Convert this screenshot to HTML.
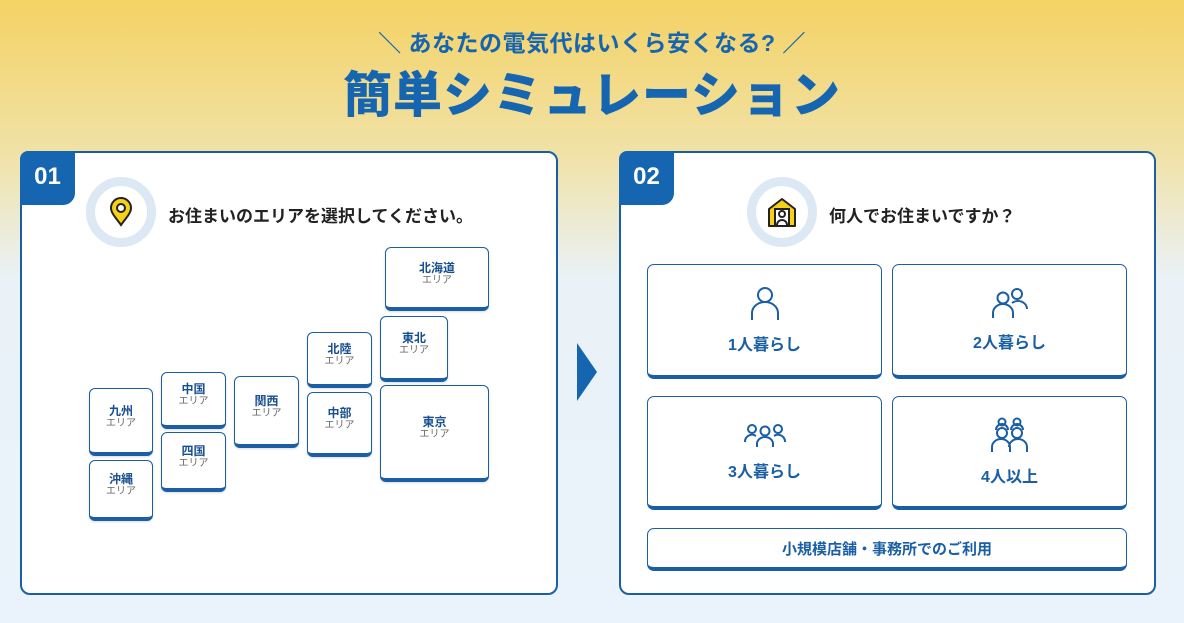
<!DOCTYPE html>
<html><head><meta charset="utf-8"><style>
*{margin:0;padding:0;box-sizing:border-box}
body{width:1184px;height:623px;overflow:hidden;position:relative;font-family:"Liberation Sans","Noto Sans CJK JP",sans-serif;background:linear-gradient(180deg,#f4d264 0%,#f0e2a8 25%,#eaf2f8 45%,#eaf3fb 100%)}
.abs{position:absolute}
.sub{left:0;width:1184px;top:24px;text-align:center;font-size:23px;font-weight:700;color:#1565b0;letter-spacing:0.5px}
.ttl{left:0;width:1184px;top:64px;text-align:center;font-size:49px;font-weight:900;color:#1565b0;letter-spacing:1px;line-height:64px}
.card{background:#fff;border:2px solid #1a5fa5;border-radius:10px}
.badge{background:#1565b0;color:#fff;font-weight:700;font-size:24px;width:55px;height:54px;border-radius:8px 0 12px 0;text-align:center;line-height:52px;left:-2px;top:-2px;font-family:"Liberation Sans Narrow","Liberation Sans",sans-serif}
.ring{width:70px;height:70px;border-radius:50%;background:#fff;border:9px solid #dce8f4}
.q{font-size:17px;font-weight:700;color:#222}
.area{background:#fff;border:1.5px solid #1a5fa5;border-bottom:4px solid #1a5fa5;border-radius:6px;display:flex;flex-direction:column;align-items:center;justify-content:center;box-shadow:0 1px 2px rgba(0,0,0,.15);padding-bottom:8px}
.area b{font-size:12px;color:#1a4f8f;line-height:14px}
.area i{font-style:normal;font-size:10px;color:#666;line-height:12px}
.btn{background:#fff;border:1.5px solid #1a5fa5;border-bottom:4px solid #1a5fa5;border-radius:7px;display:flex;flex-direction:column;align-items:center;justify-content:center;color:#1a5fa5;font-weight:700;font-size:16px}
.btn svg{margin-bottom:10px}
</style></head><body>
<div class="abs sub">＼ あなたの電気代はいくら安くなる? ／</div>
<div class="abs ttl">簡単シミュレーション</div>

<div class="abs card" style="left:20px;top:151px;width:538px;height:444px">
 <div class="abs badge">01</div>
</div>
<div class="abs ring" style="left:86px;top:177px">
 <svg class="abs" style="left:11px;top:10px" width="30" height="32" viewBox="0 0 30 32"><path d="M15 29C10 22 5 17 5 12a10 10 0 0 1 20 0c0 5-5 10-10 17z" fill="#f7d117" stroke="#222" stroke-width="2"/><circle cx="15" cy="12" r="4" fill="#fff" stroke="#222" stroke-width="2"/></svg>
</div>
<div class="abs q" style="left:168px;top:202px">お住まいのエリアを選択してください。</div>

<div class="abs area" style="left:385px;top:247px;width:104px;height:64px"><b>北海道</b><i>エリア</i></div>
<div class="abs area" style="left:380px;top:316px;width:68px;height:66px"><b>東北</b><i>エリア</i></div>
<div class="abs area" style="left:380px;top:385px;width:109px;height:97px"><b>東京</b><i>エリア</i></div>
<div class="abs area" style="left:307px;top:332px;width:65px;height:56px"><b>北陸</b><i>エリア</i></div>
<div class="abs area" style="left:307px;top:392px;width:65px;height:65px"><b>中部</b><i>エリア</i></div>
<div class="abs area" style="left:234px;top:376px;width:65px;height:72px"><b>関西</b><i>エリア</i></div>
<div class="abs area" style="left:161px;top:372px;width:65px;height:57px"><b>中国</b><i>エリア</i></div>
<div class="abs area" style="left:161px;top:432px;width:65px;height:60px"><b>四国</b><i>エリア</i></div>
<div class="abs area" style="left:89px;top:388px;width:64px;height:68px"><b>九州</b><i>エリア</i></div>
<div class="abs area" style="left:89px;top:460px;width:64px;height:61px"><b>沖縄</b><i>エリア</i></div>

<svg class="abs" style="left:577px;top:343px" width="22" height="58"><polygon points="0,0 20,29 0,58" fill="#1565b0"/></svg>

<div class="abs card" style="left:619px;top:151px;width:537px;height:444px">
 <div class="abs badge">02</div>
</div>
<div class="abs ring" style="left:747px;top:177px">
 <svg class="abs" style="left:9px;top:9px" width="34" height="34" viewBox="0 0 34 34"><path d="M4 14L17 4l13 10v17H4z" fill="#f7d117" stroke="#222" stroke-width="2" stroke-linejoin="round"/><rect x="10" y="14" width="14" height="17" fill="#fff" stroke="#222" stroke-width="2"/><circle cx="17" cy="19" r="3" fill="none" stroke="#222" stroke-width="2"/><path d="M12 30a5 5 0 0 1 10 0" fill="none" stroke="#222" stroke-width="2"/></svg>
</div>
<div class="abs q" style="left:829px;top:202px">何人でお住まいですか？</div>

<div class="abs btn" style="left:647px;top:264px;width:235px;height:115px">
 <svg width="32" height="36" viewBox="0 0 32 36" fill="none" stroke="#1a5fa5" stroke-width="2"><circle cx="16" cy="10" r="7"/><path d="M3 35V28a13 11 0 0 1 26 0v7"/></svg>1人暮らし</div>
<div class="abs btn" style="left:892px;top:264px;width:235px;height:115px">
 <svg width="40" height="32" viewBox="0 0 40 32" fill="none" stroke="#1a5fa5" stroke-width="2"><circle cx="13" cy="11" r="5.5"/><path d="M3 31v-5a10 9 0 0 1 20 0v5"/><circle cx="27" cy="7" r="5"/><path d="M22 16a9 8 0 0 1 15 6"/></svg>2人暮らし</div>
<div class="abs btn" style="left:647px;top:396px;width:235px;height:114px">
 <svg width="42" height="26" viewBox="0 0 42 26" fill="none" stroke="#1a5fa5" stroke-width="2"><circle cx="8" cy="7" r="4"/><circle cx="21" cy="9" r="4.5"/><circle cx="34" cy="7" r="4"/><path d="M1 20a7 7 0 0 1 11-6M41 20a7 7 0 0 0-11-6M13 25v-3a8 7 0 0 1 16 0v3"/></svg>3人暮らし</div>
<div class="abs btn" style="left:892px;top:396px;width:235px;height:114px">
 <svg width="40" height="36" viewBox="0 0 40 36" fill="none" stroke="#1a5fa5" stroke-width="2"><circle cx="12" cy="5" r="3.5"/><circle cx="27" cy="5" r="3.5"/><circle cx="12" cy="16" r="5"/><circle cx="27" cy="16" r="5"/><path d="M2 35v-5a9 8 0 0 1 18 0v5M19 30a9 8 0 0 1 18 0v5M6 13a6 6 0 0 1 12 0M21 13a6 6 0 0 1 12 0"/></svg>4人以上</div>
<div class="abs btn" style="left:647px;top:528px;width:480px;height:43px;font-size:15px">小規模店舗・事務所でのご利用</div>
</body></html>
